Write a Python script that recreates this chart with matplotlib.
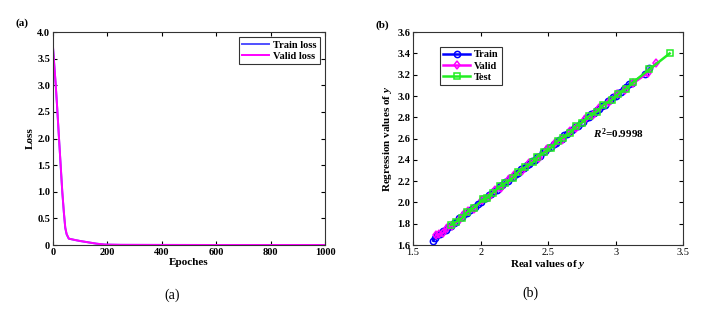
import matplotlib.pyplot as plt
import numpy as np

plt.rcParams['font.family'] = 'Liberation Serif'
plt.rcParams['mathtext.fontset'] = 'custom'
plt.rcParams['mathtext.it'] = 'Liberation Serif:italic:bold'
plt.rcParams['mathtext.rm'] = 'Liberation Serif:bold'

# loss history
epochs = [0, 5, 10, 15, 22, 28, 34, 40, 45, 50, 58, 80, 100, 130, 160, 190, 250, 400, 600, 800, 1000]
train_loss = [3.70, 3.35, 3.00, 2.60, 2.00, 1.50, 1.00, 0.60, 0.32, 0.20, 0.12, 0.095, 0.075,
              0.050, 0.025, 0.008, 0.003, 0.002, 0.001, 0.001, 0.001]
valid_loss = [3.72, 3.36, 3.01, 2.61, 2.01, 1.51, 1.01, 0.61, 0.33, 0.21, 0.12, 0.096, 0.076,
              0.051, 0.026, 0.009, 0.004, 0.002, 0.001, 0.001, 0.001]

# regression: real vs predicted
train_real = [1.65, 1.66, 1.68, 1.70, 1.72, 1.74, 1.76, 1.78, 1.80, 1.82, 1.84, 1.86, 1.88, 1.90,
              1.92, 1.94, 1.96, 1.98, 2.00, 2.02, 2.04, 2.06, 2.08, 2.10, 2.12, 2.14, 2.16, 2.18,
              2.20, 2.22, 2.24, 2.26, 2.28, 2.30, 2.32, 2.34, 2.36, 2.38, 2.40, 2.42, 2.44, 2.46,
              2.48, 2.50, 2.52, 2.54, 2.56, 2.58, 2.60, 2.62, 2.64, 2.66, 2.68, 2.70, 2.72, 2.74,
              2.76, 2.78, 2.80, 2.82, 2.84, 2.86, 2.88, 2.90, 2.92, 2.94, 2.96, 2.98, 3.00, 3.02,
              3.04, 3.06, 3.08, 3.10, 3.12, 3.22, 3.25]
train_pred = [1.64, 1.67, 1.69, 1.70, 1.73, 1.74, 1.77, 1.78, 1.81, 1.82, 1.85, 1.86, 1.89, 1.90,
              1.93, 1.95, 1.96, 1.99, 2.00, 2.03, 2.04, 2.07, 2.08, 2.11, 2.12, 2.15, 2.16, 2.19,
              2.20, 2.23, 2.24, 2.27, 2.28, 2.31, 2.32, 2.35, 2.36, 2.39, 2.40, 2.43, 2.44, 2.47,
              2.48, 2.51, 2.52, 2.55, 2.56, 2.59, 2.60, 2.63, 2.64, 2.67, 2.68, 2.71, 2.72, 2.75,
              2.76, 2.79, 2.80, 2.83, 2.84, 2.87, 2.88, 2.91, 2.92, 2.95, 2.96, 2.99, 3.00, 3.03,
              3.04, 3.07, 3.08, 3.11, 3.12, 3.21, 3.26]
valid_real = [1.67, 1.69, 1.72, 1.75, 1.79, 1.85, 1.88, 1.91, 1.95, 2.01, 2.06, 2.11, 2.15, 2.21,
              2.25, 2.31, 2.36, 2.43, 2.49, 2.55, 2.60, 2.66, 2.71, 2.77, 2.83, 2.88, 2.95, 3.01,
              3.07, 3.13, 3.24, 3.30]
valid_pred = [1.69, 1.70, 1.71, 1.76, 1.78, 1.84, 1.89, 1.92, 1.94, 2.02, 2.05, 2.12, 2.14, 2.22,
              2.26, 2.30, 2.37, 2.42, 2.50, 2.56, 2.59, 2.67, 2.70, 2.78, 2.82, 2.89, 2.94, 3.02,
              3.06, 3.12, 3.22, 3.31]
test_real = [1.78, 1.82, 1.86, 1.90, 1.95, 2.02, 2.05, 2.09, 2.14, 2.18, 2.24, 2.28, 2.33, 2.39,
             2.42, 2.47, 2.52, 2.57, 2.61, 2.66, 2.71, 2.75, 2.80, 2.86, 2.91, 2.97, 3.02, 3.08,
             3.13, 3.25, 3.40]
test_pred = [1.79, 1.82, 1.85, 1.91, 1.95, 2.03, 2.04, 2.09, 2.15, 2.18, 2.23, 2.29, 2.33, 2.38,
             2.43, 2.47, 2.51, 2.58, 2.61, 2.65, 2.72, 2.75, 2.81, 2.85, 2.92, 2.96, 3.02, 3.07,
             3.13, 3.25, 3.40]

TICK = 7.5
LAB = 8

fig = plt.figure(figsize=(7.05, 3.09), dpi=100)
ax1 = fig.add_axes([0.0752, 0.207, 0.386, 0.689])
ax2 = fig.add_axes([0.586, 0.207, 0.383, 0.689])

ax1.plot(epochs, train_loss, color='#5050ff', lw=1.4, label='Train loss')
ax1.plot(epochs, valid_loss, color='#ff00ff', lw=1.4, label='Valid loss')
ax1.set_xlim(0, 1000)
ax1.set_ylim(0, 4.0)
ax1.set_xticks([0, 200, 400, 600, 800, 1000])
ax1.set_yticks([0, 0.5, 1.0, 1.5, 2.0, 2.5, 3.0, 3.5, 4.0])
ax1.set_yticklabels(['0', '0.5', '1.0', '1.5', '2.0', '2.5', '3.0', '3.5', '4.0'])
ax1.set_xlabel('Epoches', fontsize=LAB, fontweight='bold', labelpad=1)
ax1.set_ylabel('Loss', fontsize=LAB, fontweight='bold', labelpad=2)
leg1 = ax1.legend(loc='upper right', prop={'weight': 'bold', 'size': TICK},
                  fancybox=False, edgecolor='black', handlelength=2.6, borderpad=0.3,
                  labelspacing=0.2, handletextpad=0.4, borderaxespad=0.5)
leg1.get_frame().set_linewidth(0.8)
for lab in ax1.get_xticklabels() + ax1.get_yticklabels():
    lab.set_fontweight('bold')

ax2.plot(train_real, train_pred, color='#0000ff', lw=1.8, marker='o', ms=4.5, mfc='none',
         mew=1.1, label='Train')
ax2.plot(valid_real, valid_pred, color='#ff00ff', lw=1.8, marker='d', ms=4.5, mfc='none',
         mew=1.1, label='Valid')
ax2.plot(test_real, test_pred, color='#22ee22', lw=1.8, marker='s', ms=4, mfc='none',
         mew=1.1, label='Test')
ax2.set_xlim(1.5, 3.5)
ax2.set_ylim(1.6, 3.6)
ax2.set_xticks([1.5, 2, 2.5, 3, 3.5])
ax2.set_xticklabels(['1.5', '2', '2.5', '3', '3.5'])
ax2.set_yticks([1.6, 1.8, 2.0, 2.2, 2.4, 2.6, 2.8, 3.0, 3.2, 3.4, 3.6])
ax2.set_yticklabels(['%.1f' % v for v in [1.6, 1.8, 2.0, 2.2, 2.4, 2.6, 2.8, 3.0, 3.2, 3.4, 3.6]])
for lab in ax2.get_yticklabels():
    lab.set_fontweight('bold')
ax2.set_xlabel(r'Real values of $y$', fontsize=LAB, fontweight='bold', labelpad=1)
ax2.set_ylabel(r'Regression values of $y$', fontsize=LAB, fontweight='bold', labelpad=2)
ax2.text(2.83, 2.65, r'$R^2$=0.9998', fontsize=LAB, fontweight='bold', va='center')
leg2 = ax2.legend(loc='upper left', prop={'weight': 'bold', 'size': TICK}, fancybox=False,
                  edgecolor='black', handlelength=2.6, borderpad=0.3, labelspacing=0.2,
                  handletextpad=0.4, bbox_to_anchor=(0.08, 0.955))
leg2.get_frame().set_linewidth(0.8)

for ax in (ax1, ax2):
    ax.tick_params(direction='in', top=True, right=True, labelsize=TICK, length=3, width=0.8, pad=2)
    for s in ax.spines.values():
        s.set_linewidth(0.8)
        s.set_color('#333333')

fig.text(0.022, 0.925, '(a)', fontsize=LAB, fontweight='bold', va='center')
fig.text(0.532, 0.92, '(b)', fontsize=LAB, fontweight='bold', va='center')
fig.text(0.244, 0.045, '(a)', fontsize=10, ha='center', va='center')
fig.text(0.752, 0.05, '(b)', fontsize=10, ha='center', va='center')

fig.savefig('out.png', dpi=100)
